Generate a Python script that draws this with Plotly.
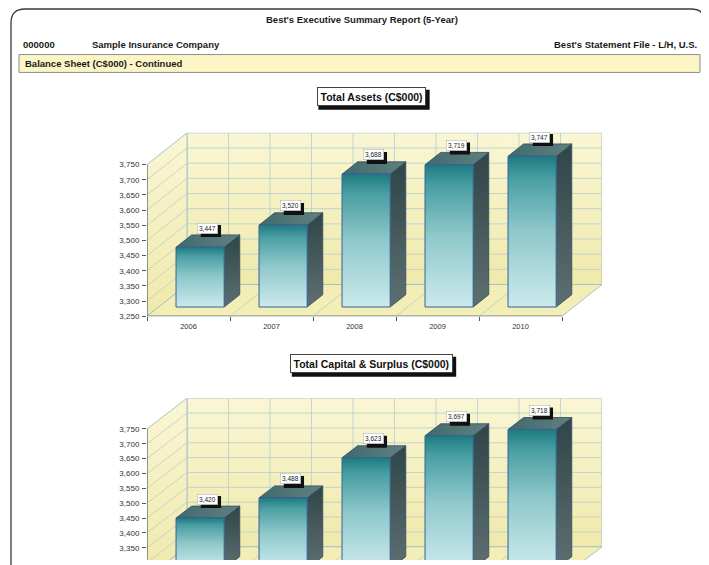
import plotly.graph_objects as go

# ---------------- data ----------------
YEARS = ["2006", "2007", "2008", "2009", "2010"]
TOTAL_ASSETS = [3447, 3520, 3688, 3719, 3747]
CAPITAL_SURPLUS = [3420, 3488, 3623, 3697, 3718]
Y_TICKS = [3250, 3300, 3350, 3400, 3450, 3500, 3550, 3600, 3650, 3700, 3750]
Y_TICK_TEXT = ["3,250", "3,300", "3,350", "3,400", "3,450", "3,500",
               "3,550", "3,600", "3,650", "3,700", "3,750"]
REPORT_TITLE = "Best's Executive Summary Report (5-Year)"
COMPANY_ID = "000000"
COMPANY_NAME = "Sample Insurance Company"
FILE_NAME = "Best's Statement File - L/H, U.S."
SECTION = "Balance Sheet (C$000) - Continued"
CHART_TITLES = ["Total Assets (C$000)", "Total Capital & Surplus (C$000)"]

# ---------------- layout constants ----------------
# the page body has an 8px margin, so the figure is offset by (8, 8)
OX, OY = 8, 8
W, H = 701, 557
FONT = "Arial, Liberation Sans, sans-serif"
Y_MIN, Y_MAX = Y_TICKS[0], Y_TICKS[-1]
NCAT = len(YEARS)

WALL_GRAD = [[0, "#f0e9ab"], [1, "#faf6d4"]]
FLOOR_COL = "#f3edb6"
GRID_COL = "#b3cfcf"
EDGE_COL = "#a6c3c4"
BAR_LINE = "#35629a"

# approximate Arial widths (em) for estimating box sizes
_BOLD_W = {" ": .278, "(": .333, ")": .333, "$": .556, "&": .722, "0": .556,
           "T": .611, "A": .722, "C": .722, "S": .667, "a": .556, "e": .556,
           "i": .278, "l": .278, "o": .611, "p": .611, "r": .389, "s": .556,
           "t": .333, "u": .611}


def text_w(s, size, table=_BOLD_W):
    return sum(table.get(c, .556) for c in s) * size


fig = go.Figure()
annotations = []
shapes = []


def px_x(p):
    return (p - OX) / W


def px_y(p):
    return 1 - (p - OY) / H


def add_chart(values, title, xa, ya, front_left, front_right, base_px, top_px,
              depth, bottom_px, title_y, show_x):
    pxcat = (front_right - front_left) / NCAT
    pxunit = (base_px - top_px) / (Y_MAX - Y_MIN)
    dX = depth[0] / pxcat
    dY = depth[1] / pxunit
    y_lo = Y_MIN + (base_px - bottom_px) / pxunit
    y_hi = Y_MAX + dY
    xl, xr = -0.5, NCAT - 0.5

    axn = "" if xa == "x" else xa[1:]
    layout_x = dict(
        domain=[px_x(front_left), px_x(front_right + depth[0])],
        range=[xl, xr + dX], anchor=ya, showgrid=False, zeroline=False,
        showline=False, tickvals=list(range(NCAT)) if show_x else [],
        ticktext=YEARS if show_x else [], ticks="", ticklabelstandoff=4,
        tickfont=dict(family=FONT, size=7.5, color="#333"),
        minor=dict(tickvals=[i - 0.5 for i in range(NCAT + 1)] if show_x else [],
                   ticks="outside" if show_x else "", ticklen=4,
                   tickcolor="#555", showgrid=False),
        fixedrange=True,
    )
    layout_y = dict(
        domain=[px_y(bottom_px), px_y(top_px - depth[1])],
        range=[y_lo, y_hi], anchor=xa, showgrid=False, zeroline=False,
        showline=False, tickvals=Y_TICKS, ticktext=Y_TICK_TEXT,
        ticks="outside", ticklen=4, tickcolor="#555", ticklabelstandoff=1,
        tickfont=dict(family=FONT, size=8, color="#333"), fixedrange=True,
    )
    fig.layout["xaxis" + axn] = layout_x
    fig.layout["yaxis" + axn] = layout_y

    def poly(xs, ys, **kw):
        fig.add_trace(go.Scatter(x=xs + [xs[0]], y=ys + [ys[0]], mode="lines",
                                 fill="toself", xaxis=xa, yaxis=ya,
                                 hoverinfo="skip", showlegend=False, **kw))

    def lines(xs, ys, color, width):
        fig.add_trace(go.Scatter(x=xs, y=ys, mode="lines", xaxis=xa, yaxis=ya,
                                 line=dict(color=color, width=width),
                                 hoverinfo="skip", showlegend=False))

    # walls
    poly([xl + dX, xr + dX, xr + dX, xl + dX],
         [Y_MIN + dY, Y_MIN + dY, Y_MAX + dY, Y_MAX + dY],
         line=dict(color=EDGE_COL, width=1),
         fillgradient=dict(type="vertical", colorscale=WALL_GRAD))
    poly([xl, xl + dX, xl + dX, xl],
         [Y_MIN, Y_MIN + dY, Y_MAX + dY, Y_MAX],
         line=dict(color=EDGE_COL, width=1),
         fillgradient=dict(type="vertical", colorscale=WALL_GRAD))
    poly([xl, xr, xr + dX, xl + dX],
         [Y_MIN, Y_MIN, Y_MIN + dY, Y_MIN + dY],
         line=dict(color=EDGE_COL, width=1), fillcolor=FLOOR_COL)

    # grid
    gx, gy = [], []
    for t in Y_TICKS[1:-1]:
        gx += [xl + dX, xr + dX, None, xl, xl + dX, None]
        gy += [t + dY, t + dY, None, t, t + dY, None]
    for k in range(1, 2 * NCAT):
        x = xl + k * 0.5
        gx += [x + dX, x + dX, None]
        gy += [Y_MIN + dY, Y_MAX + dY, None]
    for k in range(1, NCAT):
        x = xl + k
        gx += [x, x + dX, None]
        gy += [Y_MIN, Y_MIN + dY, None]
    lines(gx, gy, GRID_COL, 0.8)

    # front axis edges
    lines([xl, xl, None, xl, xr], [Y_MIN, Y_MAX, None, Y_MIN, Y_MIN], "#555", 1)

    # bars
    bw = 0.58
    f0, f1 = 0.29, 0.68
    fx, fy, bx, by = f0 * dX, f0 * dY, f1 * dX, f1 * dY
    for i, v in enumerate(values):
        x0, x1 = i - bw / 2, i + bw / 2
        # side face
        poly([x1 + fx, x1 + bx, x1 + bx, x1 + fx],
             [Y_MIN + fy, Y_MIN + by, v + by, v + fy],
             line=dict(color="#2f4a66", width=0.8),
             fillgradient=dict(type="vertical",
                               colorscale=[[0, "#5e6f71"], [1, "#2f4547"]]))
        # top face
        poly([x0 + fx, x1 + fx, x1 + bx, x0 + bx],
             [v + fy, v + fy, v + by, v + by],
             line=dict(color="#2f4a66", width=0.8),
             fillgradient=dict(type="horizontal",
                               colorscale=[[0, "#3f6a6e"], [1, "#62807f"]]))
        # front face
        poly([x0 + fx, x1 + fx, x1 + fx, x0 + fx],
             [Y_MIN + fy, Y_MIN + fy, v + fy, v + fy],
             line=dict(color=BAR_LINE, width=1),
             fillgradient=dict(type="vertical",
                               colorscale=[[0, "#cbeaec"], [0.5, "#8fc8cb"],
                                           [0.85, "#4a9fa3"], [1, "#1d7b80"]]))
        # value label: shadow shape + white box annotation
        lx = i + (f0 + f1) / 2 * dX
        ly = v + (f0 + f1) / 2 * dY
        txt = f"{v:,}"
        bwpx = 4 * 0.556 * 6.5 + 0.278 * 6.5 + 4
        shapes.append(dict(type="rect", xref=xa, yref=ya, layer="above",
                           xsizemode="pixel", ysizemode="pixel",
                           xanchor=lx, yanchor=ly,
                           x0=-bwpx / 2 + 3, x1=bwpx / 2 + 3,
                           y0=13 - 6 - 3, y1=13 + 6 - 3,
                           fillcolor="#111", line=dict(width=0)))
        annotations.append(dict(
            x=lx, y=ly, xref=xa, yref=ya, text=txt, showarrow=False,
            xanchor="center", yanchor="middle", yshift=13,
            font=dict(family=FONT, size=6.5, color="#222"),
            bgcolor="white", bordercolor="#aaa", borderwidth=0.5, borderpad=1.5))

    # chart title box: shadow shape + annotation
    tw = text_w(title, 10.5) + 8
    shapes.append(dict(type="rect", xref="paper", yref="paper", layer="above",
                       xsizemode="pixel", ysizemode="pixel",
                       xanchor=px_x(371), yanchor=px_y(title_y),
                       x0=-tw / 2 + 3, x1=tw / 2 + 3, y0=-10 - 3, y1=10 - 3,
                       fillcolor="#111", line=dict(width=0)))
    annotations.append(dict(
        x=px_x(371), y=px_y(title_y), xref="paper", yref="paper",
        xanchor="center", yanchor="middle",
        text=f"<b>{title}</b>", showarrow=False,
        font=dict(family=FONT, size=10.5, color="#111"),
        bgcolor="white", bordercolor="#444", borderwidth=1, borderpad=2.5))


add_chart(TOTAL_ASSETS, CHART_TITLES[0], "x", "y", 147, 562, 319, 166,
          (40, 32), 319, 97.5, True)
add_chart(CAPITAL_SURPLUS, CHART_TITLES[1], "x2", "y2", 147, 562, 582.7, 432.7,
          (40, 31), 565, 367, False)

# ---------------- report header ----------------
hdr = dict(family=FONT, size=9.5, color="#1a1a1a")


def hdr_note(x, y, text, anchor):
    return dict(x=px_x(x), y=px_y(y), xref="paper", yref="paper",
                xanchor=anchor, yanchor="middle", text=f"<b>{text}</b>",
                showarrow=False, font=hdr)


annotations += [
    hdr_note(362, 20, REPORT_TITLE, "center"),
    hdr_note(21, 45, COMPANY_ID, "left"),
    hdr_note(90, 45, COMPANY_NAME, "left"),
    hdr_note(699, 45, FILE_NAME, "right"),
    hdr_note(23, 64, SECTION, "left"),
]

shapes.append(dict(type="rect", xref="paper", yref="paper",
                   x0=px_x(19), x1=px_x(700), y0=px_y(73), y1=px_y(55),
                   fillcolor="#fcf6c6", line=dict(color="#8c8c8c", width=1),
                   layer="below"))

# rounded outer frame (open at the bottom, continues below the page)
L, T, R, B, r = 11, 9, 705, 620, 14
path = (f"M {px_x(L)},{px_y(B)} L {px_x(L)},{px_y(T + r)} "
        f"Q {px_x(L)},{px_y(T)} {px_x(L + r)},{px_y(T)} "
        f"L {px_x(R - r)},{px_y(T)} "
        f"Q {px_x(R)},{px_y(T)} {px_x(R)},{px_y(T + r)} "
        f"L {px_x(R)},{px_y(B)}")
shapes.append(dict(type="path", xref="paper", yref="paper", path=path,
                   line=dict(color="#3a3a3a", width=1.3)))

fig.update_layout(
    width=W, height=H, autosize=False,
    margin=dict(l=0, r=0, t=0, b=0),
    paper_bgcolor="white", plot_bgcolor="rgba(0,0,0,0)",
    showlegend=False, annotations=annotations, shapes=shapes,
    font=dict(family=FONT),
)

fig.write_html("out.html")
